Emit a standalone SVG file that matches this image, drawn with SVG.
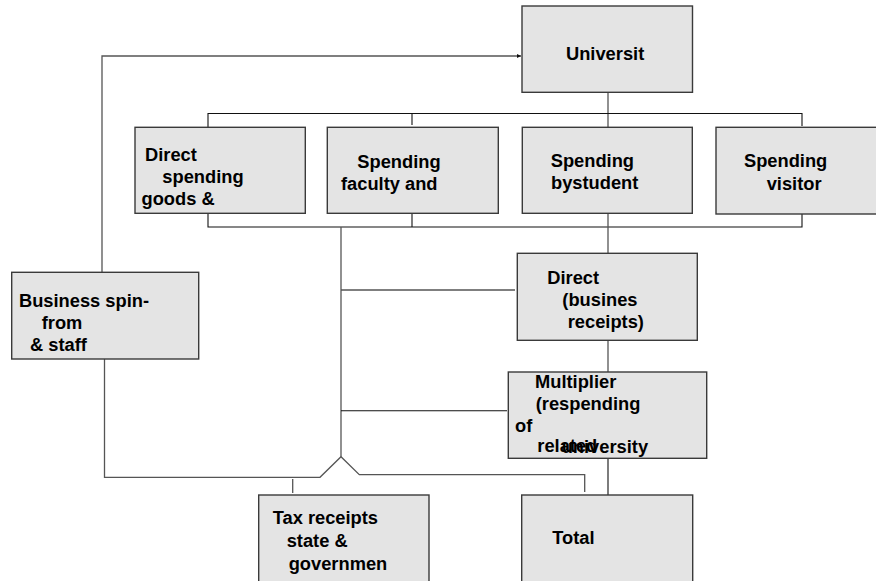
<svg xmlns="http://www.w3.org/2000/svg" width="876" height="581" viewBox="0 0 876 581">
<style>
.box{fill:#e4e4e4;stroke:#3a3a3a;stroke-width:1.4}
.ln{fill:none;stroke:#555;stroke-width:1.3}
.lk{fill:none;stroke:#111;stroke-width:1.1}
text{font-family:"Liberation Sans",Arial,sans-serif;font-weight:bold;font-size:18.3px;fill:#000}
</style>
<defs>
<marker id="ah" viewBox="0 0 6 6" refX="6" refY="3" markerWidth="4" markerHeight="4" orient="auto" markerUnits="userSpaceOnUse">
<path d="M0,0 L6,3 L0,6 Z" fill="#111"/>
</marker>
</defs>
<rect width="876" height="581" fill="#fff"/>
<g id="connectors">
<path class="ln" d="M102,272 V56 H521" marker-end="url(#ah)"/>
<path class="ln" d="M608,92 V127"/>
<path class="lk" d="M208,127 V113.5 H802 V126"/>
<path class="lk" d="M412,113.5 V125"/>
<path class="lk" d="M208,213 V227 H802 V214"/>
<path class="lk" d="M412,213 V227"/>
<path class="ln" d="M608,214 V253"/>
<path class="ln" d="M341,227 V456.7"/>
<path class="ln" d="M341,290 H515"/>
<path class="lk" d="M341,410.7 H507"/>
<path class="ln" d="M608,340 V372"/>
<path class="lk" d="M608,458 V495"/>
<path class="ln" d="M104.5,358 V477.3 H320 L341,456.7 L359.3,474.7 H584.7 V492"/>
<path class="ln" d="M292.7,479 V493"/>
</g>
<g id="n-university"><rect class="box" x="522" y="6" width="170.5" height="86.3"/><text x="566" y="60">Universit</text></g>
<g id="n-direct-spending"><rect class="box" x="135" y="127.3" width="170.3" height="86"/>
<text x="145" y="160.5">Direct</text><text x="162.3" y="183">spending</text><text x="141.5" y="204.5">goods &amp;</text></g>
<g id="n-faculty"><rect class="box" x="327.3" y="127.3" width="171" height="86"/>
<text x="357.3" y="167.5">Spending</text><text x="341" y="190">faculty and</text></g>
<g id="n-student"><rect class="box" x="522.3" y="127.3" width="170" height="86"/>
<text x="550.7" y="166.5">Spending</text><text x="551" y="188.5">bystudent</text></g>
<g id="n-visitor"><rect class="box" x="716" y="127.3" width="165" height="86.7"/>
<text x="744" y="166.5">Spending</text><text x="766.7" y="190">visitor</text></g>
<g id="n-business"><rect class="box" x="11.7" y="272.3" width="187" height="86.7"/>
<text x="19" y="306.5">Business spin-</text><text x="41.7" y="329">from</text><text x="30" y="350.5">&amp; staff</text></g>
<g id="n-direct-business"><rect class="box" x="517.3" y="253.3" width="180" height="87"/>
<text x="547.3" y="284">Direct</text><text x="562.3" y="306">(busines</text><text x="567.7" y="328">receipts)</text></g>
<g id="n-multiplier"><rect class="box" x="508.3" y="372" width="198.4" height="86.3"/>
<text x="535" y="388.3">Multiplier</text><text x="535.7" y="410">(respending</text><text x="515" y="432">of</text><text x="537.3" y="452">related</text><text x="561.7" y="453.3">university</text></g>
<g id="n-tax"><rect class="box" x="258.7" y="495" width="170.3" height="100"/>
<text x="272.7" y="524">Tax receipts</text><text x="286.7" y="546.5">state &amp;</text><text x="288.7" y="569.5">governmen</text></g>
<g id="n-total"><rect class="box" x="521.7" y="495" width="171" height="100"/>
<text x="552.3" y="544">Total</text></g>
</svg>
